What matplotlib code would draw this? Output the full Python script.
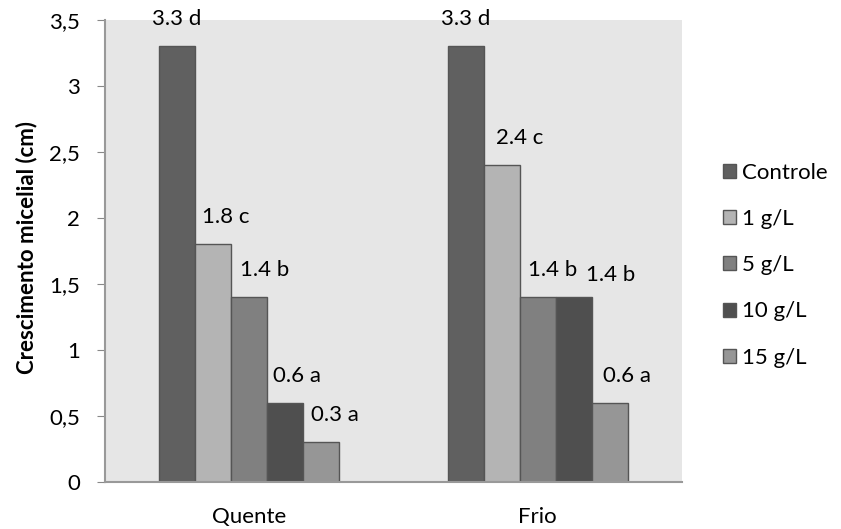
import matplotlib
matplotlib.use("Agg")
import matplotlib.pyplot as plt
import numpy as np

plt.rcParams['font.family'] = ['Lato', 'DejaVu Sans']

grupos = ["Quente", "Frio"]
tratamentos = ["Controle", "1 g/L", "5 g/L", "10 g/L", "15 g/L"]
crescimento = [
    [3.3, 3.3],   # Controle
    [1.8, 2.4],   # 1 g/L
    [1.4, 1.4],   # 5 g/L
    [0.6, 1.4],   # 10 g/L
    [0.3, 0.6],   # 15 g/L
]
letras = [
    ["d", "d"],
    ["c", "c"],
    ["b", "b"],
    ["a", "b"],
    ["a", "a"],
]
cores = ["#606060", "#b4b4b4", "#808080", "#4f4f4f", "#969696"]
# label nudges in px (x, y above bar top)
desloc_x = [
    [0, 0],
    [13, 18],
    [15, 15],
    [12, 37],
    [14, 17],
]
desloc_y = [
    [27, 27],
    [27, 27],
    [27, 27],
    [27, 22],
    [27, 27],
]

fig = plt.figure(figsize=(8.41, 5.29), dpi=100)
ax = fig.add_axes([0.1249, 0.0888, 0.811 - 0.1249, 0.962 - 0.0888])
ax.set_facecolor("#e6e6e6")

x = np.arange(len(grupos))
largura = 0.125
for i, trat in enumerate(tratamentos):
    pos = x + (i - 2) * largura
    ax.bar(pos, crescimento[i], width=largura, color=cores[i],
           edgecolor="#555555", linewidth=1.0, label=trat, zorder=2)
    for j in range(len(grupos)):
        v = crescimento[i][j]
        ax.annotate(f"{v:.1f} {letras[i][j]}", (pos[j], v),
                    xytext=(desloc_x[i][j], desloc_y[i][j]),
                    textcoords="offset pixels",
                    ha="center", va="center", fontsize=16, color="black",
                    annotation_clip=False)

ax.set_xlim(-0.5, 1.5)
ax.set_ylim(0, 3.5)
ax.set_yticks(np.arange(0, 3.51, 0.5))
ax.set_yticklabels(["0", "0,5", "1", "1,5", "2", "2,5", "3", "3,5"])
ax.set_xticks(x)
ax.set_xticklabels(grupos)
ax.tick_params(axis="y", length=6, color="#888888", labelsize=16, pad=12)
ax.tick_params(axis="x", length=0, labelsize=16, pad=18)
for lado in ["top", "right"]:
    ax.spines[lado].set_visible(False)
for lado in ["left", "bottom"]:
    ax.spines[lado].set_color("#999999")
    ax.spines[lado].set_linewidth(1.5)

ax.set_ylabel("Crescimento micelial (cm)", fontsize=16, fontweight="bold")
ax.yaxis.set_label_coords(-0.118, 0.508)

fig.legend(loc="upper left", bbox_to_anchor=(0.849, 0.709), frameon=False,
           fontsize=16, handlelength=0.6, handleheight=0.6,
           handletextpad=0.25, labelspacing=1.18, borderaxespad=0)

fig.savefig("out.png", dpi=100)
